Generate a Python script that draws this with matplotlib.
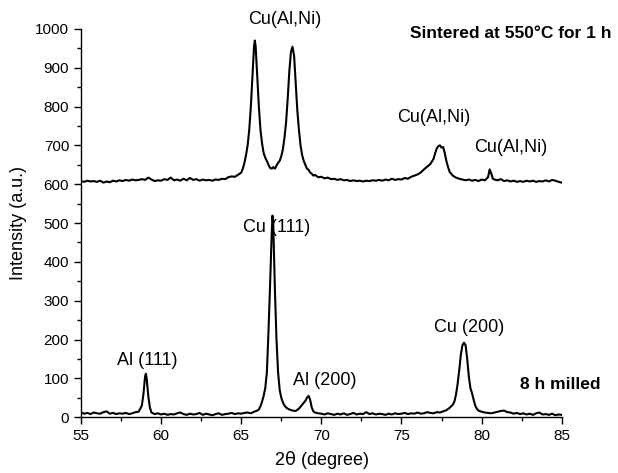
import matplotlib
matplotlib.use("Agg")
import matplotlib.pyplot as plt
from matplotlib.ticker import MultipleLocator

plt.rcParams['font.family'] = ['Liberation Sans', 'DejaVu Sans']

# sintered sample (upper trace)
x_sint = [55.0, 55.2, 55.4, 55.6, 55.8, 56.0, 56.2, 56.4, 56.6, 56.8,
          57.0, 57.2, 57.4, 57.6, 57.8, 58.0, 58.2, 58.4, 58.6, 58.8,
          59.0, 59.2, 59.4, 59.6, 59.8, 60.0, 60.2, 60.4, 60.6, 60.8,
          61.0, 61.2, 61.4, 61.6, 61.8, 62.0, 62.2, 62.4, 62.6, 62.8,
          63.0, 63.2, 63.4, 63.6, 63.8, 64.0, 64.2, 64.4, 64.6, 64.8,
          65.0, 65.1, 65.2, 65.3, 65.4, 65.5, 65.6, 65.7, 65.8, 65.85,
          65.9, 66.0, 66.1, 66.2, 66.3, 66.4, 66.5, 66.6, 66.7, 66.8,
          66.9, 67.0, 67.1, 67.2, 67.3, 67.4, 67.5, 67.6, 67.7, 67.8,
          67.9, 68.0, 68.1, 68.2, 68.3, 68.4, 68.5, 68.6, 68.7, 68.8,
          68.9, 69.0, 69.1, 69.2, 69.3, 69.4, 69.5, 69.6, 69.8, 70.0,
          70.2, 70.4, 70.6, 70.8, 71.0, 71.2, 71.4, 71.6, 71.8, 72.0,
          72.2, 72.4, 72.6, 72.8, 73.0, 73.2, 73.4, 73.6, 73.8, 74.0,
          74.2, 74.4, 74.6, 74.8, 75.0, 75.2, 75.4, 75.6, 75.8, 76.0,
          76.2, 76.4, 76.6, 76.8, 77.0, 77.1, 77.2, 77.3, 77.4, 77.5,
          77.6, 77.7, 77.8, 77.9, 78.0, 78.2, 78.4, 78.6, 78.8, 79.0,
          79.2, 79.4, 79.6, 79.8, 80.0, 80.2, 80.4, 80.5, 80.6, 80.7,
          80.8, 81.0, 81.2, 81.4, 81.6, 81.8, 82.0, 82.2, 82.4, 82.6,
          82.8, 83.0, 83.2, 83.4, 83.6, 83.8, 84.0, 84.2, 84.4, 84.6,
          84.8, 85.0]
y_sint = [608, 606, 609, 607, 608, 606, 609, 604, 607, 605,
          609, 607, 610, 608, 611, 609, 612, 610, 611, 613,
          611, 617, 612, 608, 610, 609, 613, 611, 617, 610,
          612, 609, 614, 610, 616, 611, 613, 609, 612, 610,
          611, 609, 612, 611, 614, 613, 618, 620, 619, 624,
          630, 640, 655, 675, 700, 740, 800, 880, 955, 970,
          955, 880, 800, 740, 705, 680, 668, 660, 650, 642,
          640, 644, 640, 648, 655, 660, 672, 690, 720, 760,
          820, 890, 940, 954, 930, 860, 790, 740, 700, 675,
          660, 650, 640, 637, 630, 627, 622, 624, 618, 619,
          615, 617, 613, 614, 611, 613, 610, 611, 608, 610,
          608, 609, 607, 609, 608, 610, 609, 611, 609, 612,
          610, 614, 611, 613, 612, 616, 614, 619, 622, 625,
          630, 638, 645, 652, 665, 680, 692, 698, 700, 694,
          696, 680, 660, 645, 632, 622, 617, 614, 612, 610,
          612, 609, 611, 608, 612, 610, 618, 638, 628, 614,
          612, 610, 613, 608, 610, 607, 609, 606, 608, 606,
          609, 607, 609, 606, 608, 607, 610, 607, 611, 609,
          606, 604]

# 8 h milled powder (lower trace)
x_mill = [55.0, 55.2, 55.4, 55.6, 55.8, 56.0, 56.2, 56.4, 56.6, 56.8,
          57.0, 57.2, 57.4, 57.6, 57.8, 58.0, 58.2, 58.4, 58.6, 58.8,
          58.9, 59.0, 59.05, 59.1, 59.2, 59.3, 59.4, 59.6, 59.8, 60.0,
          60.2, 60.4, 60.6, 60.8, 61.0, 61.2, 61.4, 61.6, 61.8, 62.0,
          62.2, 62.4, 62.6, 62.8, 63.0, 63.2, 63.4, 63.6, 63.8, 64.0,
          64.2, 64.4, 64.6, 64.8, 65.0, 65.2, 65.4, 65.6, 65.8, 66.0,
          66.1, 66.2, 66.3, 66.4, 66.5, 66.6, 66.7, 66.8, 66.9, 66.95,
          67.0, 67.1, 67.2, 67.3, 67.4, 67.5, 67.6, 67.7, 67.8, 67.9,
          68.0, 68.2, 68.4, 68.6, 68.8, 69.0, 69.1, 69.2, 69.3, 69.4,
          69.5, 69.6, 69.8, 70.0, 70.2, 70.4, 70.6, 70.8, 71.0, 71.2,
          71.4, 71.6, 71.8, 72.0, 72.2, 72.4, 72.6, 72.8, 73.0, 73.2,
          73.4, 73.6, 73.8, 74.0, 74.2, 74.4, 74.6, 74.8, 75.0, 75.2,
          75.4, 75.6, 75.8, 76.0, 76.2, 76.4, 76.6, 76.8, 77.0, 77.2,
          77.4, 77.6, 77.8, 78.0, 78.2, 78.3, 78.4, 78.5, 78.6, 78.7,
          78.8, 78.9, 79.0, 79.1, 79.2, 79.3, 79.4, 79.5, 79.6, 79.7,
          79.8, 80.0, 80.2, 80.4, 80.6, 80.8, 81.0, 81.2, 81.4, 81.6,
          81.8, 82.0, 82.2, 82.4, 82.6, 82.8, 83.0, 83.2, 83.4, 83.6,
          83.8, 84.0, 84.2, 84.4, 84.6, 84.8, 85.0]
y_mill = [12, 9, 11, 8, 12, 10, 9, 13, 15, 9,
          11, 8, 10, 9, 11, 8, 10, 13, 14, 30,
          60, 105, 112, 100, 55, 25, 12, 8, 10, 7,
          9, 6, 8, 7, 10, 12, 8, 6, 9, 7,
          8, 11, 6, 9, 7, 5, 8, 10, 6, 8,
          9, 11, 8, 10, 9, 11, 12, 10, 14, 17,
          20, 28, 40, 55, 75, 115, 220, 340, 470, 519,
          495, 330, 200, 115, 70, 50, 38, 30, 25, 22,
          20, 17, 16, 22, 32, 42, 50, 55, 45, 25,
          15, 12, 10, 9, 7, 10, 8, 6, 9, 7,
          10, 6, 8, 11, 7, 9, 8, 13, 8, 10,
          7, 9, 8, 6, 9, 7, 10, 8, 9, 11,
          8, 10, 9, 12, 9, 10, 13, 11, 10, 13,
          12, 15, 18, 24, 32, 40, 58, 85, 120, 160,
          185, 192, 185, 150, 105, 75, 62, 45, 30, 22,
          17, 14, 12, 11, 10, 12, 14, 16, 17, 13,
          12, 9, 11, 8, 10, 7, 9, 6, 10, 12,
          7, 8, 6, 9, 5, 7, 6]

# peak labels: text, x, y
peak_labels = ["Cu(Al,Ni)", "Cu(Al,Ni)", "Cu(Al,Ni)", "Cu (111)",
               "Al (111)", "Al (200)", "Cu (200)"]
label_x = [67.7, 77.0, 81.8, 67.2, 59.15, 70.2, 79.2]
label_y = [1025, 771, 694, 488, 146, 95, 231]

fig = plt.figure(figsize=(6.18, 4.73), dpi=100)
ax = fig.add_axes([0.131, 0.118, 0.778, 0.821])

ax.plot(x_sint, y_sint, color='black', lw=1.5)
ax.plot(x_mill, y_mill, color='black', lw=1.5)

ax.set_xlim(55, 85)
ax.set_ylim(0, 1000)
ax.xaxis.set_major_locator(MultipleLocator(5))
ax.xaxis.set_minor_locator(MultipleLocator(2.5))
ax.yaxis.set_major_locator(MultipleLocator(100))
ax.yaxis.set_minor_locator(MultipleLocator(50))
ax.tick_params(which='major', direction='out', length=5, width=1, labelsize=11)
ax.tick_params(which='minor', direction='out', length=3, width=1)
for side in ['top', 'right']:
    ax.spines[side].set_visible(False)
for side in ['left', 'bottom']:
    ax.spines[side].set_linewidth(1)

ax.set_xlabel(r"2$\mathrm{\theta}$ (degree)", fontsize=13, labelpad=4)
ax.set_ylabel("Intensity (a.u.)", fontsize=13, labelpad=6)

for t, tx, ty in zip(peak_labels, label_x, label_y):
    ax.text(tx, ty, t, fontsize=13, ha='center', va='center', clip_on=False)

ax.text(81.8, 987, "Sintered at 550°C for 1 h", fontsize=12.5,
        fontweight='bold', ha='center', va='center', clip_on=False)
ax.text(84.9, 85, "8 h milled", fontsize=12.5, fontweight='bold',
        ha='center', va='center', clip_on=False)

fig.savefig("out.png", dpi=100)
